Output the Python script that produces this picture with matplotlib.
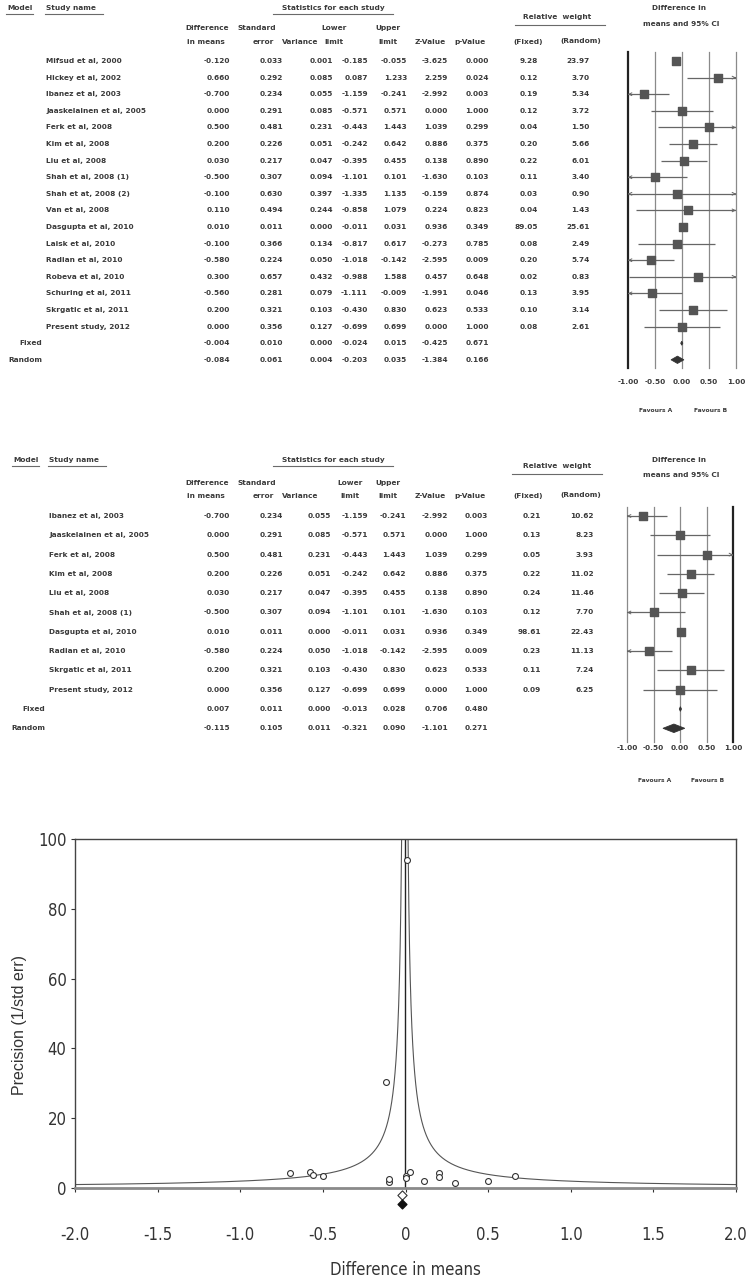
import numpy as np
import matplotlib
matplotlib.use("Agg")
from matplotlib import pyplot as plt

# ---- table 1 : all studies ----
names1 = ["Mifsud et al, 2000", "Hickey et al, 2002", "Ibanez et al, 2003",
          "Jaaskelainen et al, 2005", "Ferk et al, 2008", "Kim et al, 2008",
          "Liu et al, 2008", "Shah et al, 2008 (1)", "Shah et at, 2008 (2)",
          "Van et al, 2008", "Dasgupta et al, 2010", "Laisk et al, 2010",
          "Radian et al, 2010", "Robeva et al, 2010", "Schuring et al, 2011",
          "Skrgatic et al, 2011", "Present study, 2012"]
diff1 = [-0.120, 0.660, -0.700, 0.000, 0.500, 0.200, 0.030, -0.500, -0.100,
         0.110, 0.010, -0.100, -0.580, 0.300, -0.560, 0.200, 0.000]
se1 = [0.033, 0.292, 0.234, 0.291, 0.481, 0.226, 0.217, 0.307, 0.630,
       0.494, 0.011, 0.366, 0.224, 0.657, 0.281, 0.321, 0.356]
var1 = [0.001, 0.085, 0.055, 0.085, 0.231, 0.051, 0.047, 0.094, 0.397,
        0.244, 0.000, 0.134, 0.050, 0.432, 0.079, 0.103, 0.127]
lo1 = [-0.185, 0.087, -1.159, -0.571, -0.443, -0.242, -0.395, -1.101, -1.335,
       -0.858, -0.011, -0.817, -1.018, -0.988, -1.111, -0.430, -0.699]
hi1 = [-0.055, 1.233, -0.241, 0.571, 1.443, 0.642, 0.455, 0.101, 1.135,
       1.079, 0.031, 0.617, -0.142, 1.588, -0.009, 0.830, 0.699]
z1 = [-3.625, 2.259, -2.992, 0.000, 1.039, 0.886, 0.138, -1.630, -0.159,
      0.224, 0.936, -0.273, -2.595, 0.457, -1.991, 0.623, 0.000]
p1 = [0.000, 0.024, 0.003, 1.000, 0.299, 0.375, 0.890, 0.103, 0.874,
      0.823, 0.349, 0.785, 0.009, 0.648, 0.046, 0.533, 1.000]
wfix1 = [9.28, 0.12, 0.19, 0.12, 0.04, 0.20, 0.22, 0.11, 0.03,
         0.04, 89.05, 0.08, 0.20, 0.02, 0.13, 0.10, 0.08]
wran1 = [23.97, 3.70, 5.34, 3.72, 1.50, 5.66, 6.01, 3.40, 0.90,
         1.43, 25.61, 2.49, 5.74, 0.83, 3.95, 3.14, 2.61]
fixed1 = [-0.004, 0.010, 0.000, -0.024, 0.015, -0.425, 0.671]
random1 = [-0.084, 0.061, 0.004, -0.203, 0.035, -1.384, 0.166]

# ---- table 2 : subset ----
names2 = ["Ibanez et al, 2003", "Jaaskelainen et al, 2005", "Ferk et al, 2008",
          "Kim et al, 2008", "Liu et al, 2008", "Shah et al, 2008 (1)",
          "Dasgupta et al, 2010", "Radian et al, 2010", "Skrgatic et al, 2011",
          "Present study, 2012"]
diff2 = [-0.700, 0.000, 0.500, 0.200, 0.030, -0.500, 0.010, -0.580, 0.200, 0.000]
se2 = [0.234, 0.291, 0.481, 0.226, 0.217, 0.307, 0.011, 0.224, 0.321, 0.356]
var2 = [0.055, 0.085, 0.231, 0.051, 0.047, 0.094, 0.000, 0.050, 0.103, 0.127]
lo2 = [-1.159, -0.571, -0.443, -0.242, -0.395, -1.101, -0.011, -1.018, -0.430, -0.699]
hi2 = [-0.241, 0.571, 1.443, 0.642, 0.455, 0.101, 0.031, -0.142, 0.830, 0.699]
z2 = [-2.992, 0.000, 1.039, 0.886, 0.138, -1.630, 0.936, -2.595, 0.623, 0.000]
p2 = [0.003, 1.000, 0.299, 0.375, 0.890, 0.103, 0.349, 0.009, 0.533, 1.000]
wfix2 = [0.21, 0.13, 0.05, 0.22, 0.24, 0.12, 98.61, 0.23, 0.11, 0.09]
wran2 = [10.62, 8.23, 3.93, 11.02, 11.46, 7.70, 22.43, 11.13, 7.24, 6.25]
fixed2 = [0.007, 0.011, 0.000, -0.013, 0.028, 0.706, 0.480]
random2 = [-0.115, 0.105, 0.011, -0.321, 0.090, -1.101, 0.271]

# ---- funnel plot ----
funnel_x = diff1
funnel_y = [30.3, 3.4, 4.3, 3.4, 2.1, 4.4, 4.6, 3.3, 1.6, 2.0, 94.0,
            2.7, 4.5, 1.5, 3.6, 3.1, 2.8]
funnel_mean = -0.004
sum_open = (-0.02, -2.0)
sum_filled = (-0.02, -4.6)

forest_ticks = [-1.0, -0.5, 0.0, 0.5, 1.0]
funnel_xticks = [-2.0, -1.5, -1.0, -0.5, 0.0, 0.5, 1.0, 1.5, 2.0]
funnel_xlabels = ["-2.0", "-1.5", "-1.0", "-0.5", "0", "0.5", "1.0", "1.5", "2.0"]
funnel_yticks = [0, 20, 40, 60, 80, 100]

W, H = 753, 1285
fig = plt.figure(figsize=(W / 100, H / 100), dpi=100)
bg = fig.add_axes([0, 0, 1, 1])
bg.set_xlim(0, W)
bg.set_ylim(H, 0)
bg.axis("off")

TXT = "#3a3a3a"
FNT = "DejaVu Sans"
NARROW = ["Liberation Sans Narrow", "DejaVu Sans"]


def txt(x, y, s, ha="left", size=5.3, weight="bold", color=TXT):
    bg.text(x, y, s, ha=ha, va="center", fontsize=size, fontweight=weight,
            color=color, family=FNT)


def uline(x0, x1, y):
    bg.plot([x0, x1], [y, y], color="#6a6a6a", lw=0.8)


def table(y_top, row0, dy, namex, lblx, cols, hdr, names, vals, summ, fs):
    # headers
    txt(hdr["model"], y_top, "Model", size=fs)
    uline(hdr["model"] - 1, hdr["model"] + 26, y_top + 6)
    txt(namex, y_top, "Study name", size=fs)
    uline(namex - 1, namex + 57, y_top + 6)
    txt(333, y_top, "Statistics for each study", ha="center", size=fs)
    uline(273, 393, y_top + 6)
    txt(557, hdr["rw"], "Relative  weight", ha="center", size=fs)
    uline(hdr["rwl"][0], hdr["rwl"][1], hdr["rw"] + 8)
    txt(679, y_top, "Difference in", ha="center", size=fs)
    txt(681, y_top + hdr["ci2"], "means and 95% CI", ha="center", size=fs)
    h1, h2 = hdr["h1"], hdr["h2"]
    for s, x, y in [("Difference", 207, h1), ("in means", 206, h2),
                    ("Standard", 257, h1), ("error", 263, h2),
                    ("Variance", 300, h2), ("Lower", hdr["lowx"], h1),
                    ("limit", hdr["lowx"], h2), ("Upper", 388, h1),
                    ("limit", 388, h2), ("Z-Value", 430, h2),
                    ("p-Value", 470, h2), ("(Fixed)", 528, h2),
                    ("(Random)", 581, h2 - 1)]:
        txt(x, y, s, ha="center", size=fs)
    # rows
    for i, nm in enumerate(names):
        y = row0 + dy * i
        txt(namex, y, nm, size=fs)
        for c, col in enumerate(vals):
            fmt = "%.2f" if c >= 7 else "%.3f"
            txt(cols[c], y, fmt % col[i], ha="right", size=fs)
    for k, (lab, sv) in enumerate([("Fixed", summ[0]), ("Random", summ[1])]):
        y = row0 + dy * (len(names) + k)
        txt(lblx, y, lab, ha="right", size=fs)
        for c, v in enumerate(sv):
            txt(cols[c], y, "%.3f" % v, ha="right", size=fs)


def forest(xl, xr, yt, yb, row0, dy, diff, lo, hi, summ, thick_left, tick_y, fav_y):
    n = len(diff)
    ax = fig.add_axes([xl / W, 1 - yb / H, (xr - xl) / W, (yb - yt) / H])
    ax.set_xlim(-1, 1)
    ax.set_ylim((yb - row0) / dy, (yt - row0) / dy)
    for s in ax.spines.values():
        s.set_visible(False)
    ax.set_yticks([])
    for t in forest_ticks:
        if abs(t) == 1.0 and ((t < 0) == thick_left):
            ax.axvline(t, color="#222222", lw=1.6, clip_on=False)
        else:
            ax.axvline(t, color="#8a8a8a", lw=0.9, clip_on=False)
    rows = np.arange(n)
    lo_c = np.clip(lo, -1, 1)
    hi_c = np.clip(hi, -1, 1)
    ax.hlines(rows, lo_c, hi_c, color="#666666", lw=0.9)
    for r in rows:
        if lo[r] < -1:
            ax.annotate("", xy=(-1, r), xytext=(-0.93, r),
                        arrowprops=dict(arrowstyle="->", color="#666666", lw=0.7,
                                        mutation_scale=5), annotation_clip=False)
        if hi[r] > 1:
            ax.annotate("", xy=(1, r), xytext=(0.93, r),
                        arrowprops=dict(arrowstyle="->", color="#666666", lw=0.7,
                                        mutation_scale=5), annotation_clip=False)
    ax.scatter(diff, rows, marker="s", s=36, color="#555555", zorder=3)
    for k, sv in enumerate(summ):
        r = n + k
        h = 0.12 if k == 0 else 0.22
        ax.fill([sv[3], sv[0], sv[4], sv[0]], [r, r - h, r, r + h],
                color="#333333", lw=0.6, zorder=3)
    ax.set_xticks(forest_ticks)
    ax.set_xticklabels(["%.2f" % t for t in forest_ticks], fontsize=5.3,
                       fontweight="bold", color=TXT, family=FNT)
    ax.tick_params(axis="x", length=0, pad=(tick_y - yb - 4) * 0.72)
    txt(xl + (xr - xl) * 0.26, fav_y, "Favours A", ha="center", size=4.3)
    txt(xl + (xr - xl) * 0.76, fav_y, "Favours B", ha="center", size=4.3)


# table 1
table(8, 61, 16.6, 46, 42,
      [230, 283, 333, 368, 407, 448, 489, 538, 590],
      dict(model=7, rw=17, rwl=(515, 605), ci2=16, h1=28, h2=42, lowx=334),
      names1, [diff1, se1, var1, lo1, hi1, z1, p1, wfix1, wran1],
      [fixed1, random1], 5.3)
forest(628, 736, 52, 368, 61, 16.6, diff1, lo1, hi1, [fixed1, random1],
       True, 383, 410)

# table 2
table(460, 516, 19.3, 49, 45,
      [230, 283, 331, 368, 406, 448, 488, 541, 594],
      dict(model=13, rw=466, rwl=(512, 602), ci2=15, h1=483, h2=496, lowx=350),
      names2, [diff2, se2, var2, lo2, hi2, z2, p2, wfix2, wran2],
      [fixed2, random2], 5.3)
forest(627, 733, 507, 742, 516, 19.3, diff2, lo2, hi2, [fixed2, random2],
       False, 749, 781)

# funnel plot
fa = fig.add_axes([75 / W, 1 - 1188 / H, (736 - 75) / W, (1188 - 839) / H])
fa.set_xlim(-2, 2)
fa.set_ylim(0, 100)
prec = np.linspace(0.95, 100, 3000)
fa.plot(funnel_mean - 1.96 / prec, prec, color="#555555", lw=0.8)
fa.plot(funnel_mean + 1.96 / prec, prec, color="#555555", lw=0.8)
fa.axvline(funnel_mean, color="#222222", lw=1.0)
fa.scatter(funnel_x, funnel_y, marker="o", s=18, facecolors="white",
           edgecolors="#333333", linewidths=0.8, zorder=3)
fa.scatter([sum_open[0]], [sum_open[1]], marker="D", s=22, facecolors="white",
           edgecolors="#333333", linewidths=0.8, clip_on=False, zorder=3)
fa.scatter([sum_filled[0]], [sum_filled[1]], marker="D", s=20, color="#111111",
           clip_on=False, zorder=3)
for side in ["top", "left", "right"]:
    fa.spines[side].set_color("#444444")
    fa.spines[side].set_linewidth(1.0)
fa.spines["bottom"].set_color("#8a8a8a")
fa.spines["bottom"].set_linewidth(2.0)
fa.set_xticks(funnel_xticks)
fa.set_xticklabels(funnel_xlabels, fontsize=12, color="#333333", family=NARROW,
                   fontstretch="condensed")
fa.set_yticks(funnel_yticks)
fa.set_yticklabels([str(v) for v in funnel_yticks], fontsize=12, color="#333333",
                   family=NARROW, fontstretch="condensed")
fa.tick_params(axis="x", length=3, color="#333333", pad=24)
fa.tick_params(axis="y", length=3, color="#333333", pad=3)
bg.text(405, 1270, "Difference in means", ha="center", va="center", fontsize=12,
        color="#333333", family=NARROW, fontstretch="condensed")
bg.text(20, 1025, "Precision (1/std err)", ha="center", va="center", fontsize=11.5,
        color="#333333", rotation=90, family=["Liberation Sans", "DejaVu Sans"])

fig.savefig("out.png", dpi=100)
